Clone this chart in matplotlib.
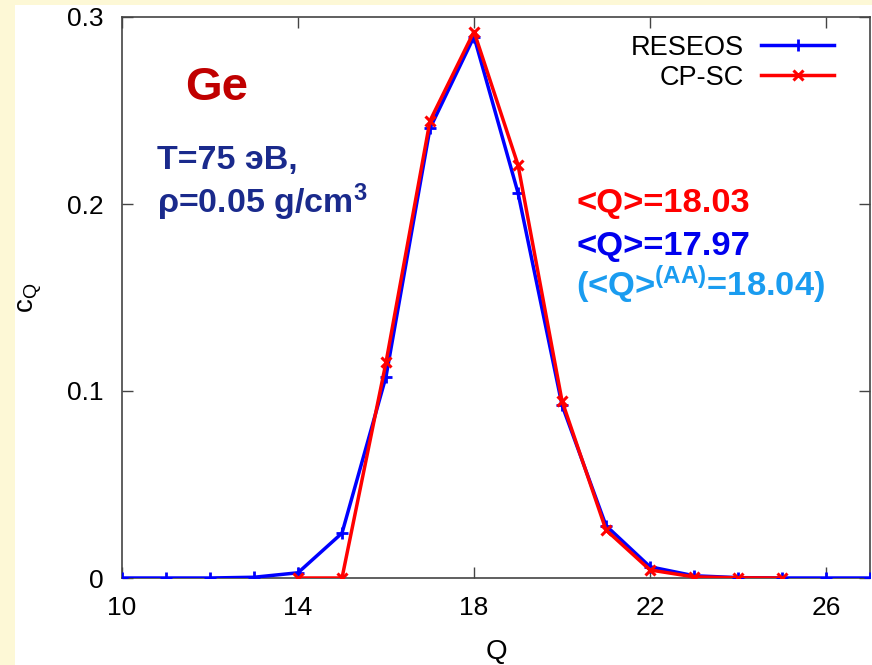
import matplotlib
matplotlib.use("Agg")
import matplotlib.pyplot as plt
from matplotlib.patches import Rectangle

plt.rcParams['font.family'] = ['Liberation Sans', 'DejaVu Sans']
plt.rcParams['mathtext.fontset'] = 'custom'
plt.rcParams['mathtext.rm'] = 'Liberation Sans'
plt.rcParams['mathtext.it'] = 'Liberation Sans'
plt.rcParams['mathtext.bf'] = 'Liberation Sans:bold'

# charge state distribution, Ge at T=75 eV
q_reseos = [10, 11, 12, 13, 14, 15, 16, 17, 18, 19, 20, 21, 22, 23, 24, 25, 26, 27]
c_reseos = [0, 0, 0, 0.0004, 0.0028, 0.024, 0.1077, 0.2405, 0.2895, 0.206,
            0.0925, 0.028, 0.006, 0.0012, 0.0002, 0, 0, 0]
q_cpsc = [14, 15, 16, 17, 18, 19, 20, 21, 22, 23, 24, 25]
c_cpsc = [0, 0, 0.1153, 0.2445, 0.2922, 0.2209, 0.0947, 0.0257, 0.0043, 0.0006, 0.0001, 0]

x_ticks = [10, 14, 18, 22, 26]
y_ticks = [0, 0.1, 0.2, 0.3]
y_tick_labels = ['0', '0.1', '0.2', '0.3']

fig = plt.figure(figsize=(8.72, 6.65), dpi=100)
fig.patch.set_facecolor('#fdf8d6')
# white slide panel behind the plot
fig.patches.append(Rectangle((15 / 872, 0), 1, 1 - 5 / 665, transform=fig.transFigure,
                             facecolor='white', edgecolor='none', zorder=-10))

ax = fig.add_axes([122 / 872, 1 - 578 / 665, 748 / 872, 561 / 665])
ax.set_facecolor('white')
ax.set_zorder(1)

ax.plot(q_reseos, c_reseos, color='#0000ff', lw=2.5, marker='+', ms=9, mew=2,
        label='RESEOS', zorder=3)
ax.plot(q_cpsc, c_cpsc, color='#ff0000', lw=2.5, marker='x', ms=7, mew=2.2,
        label='CP-SC', zorder=4)

ax.set_xlim(10, 27)
ax.set_ylim(0, 0.3)
ax.set_xticks(x_ticks)
ax.set_yticks(y_ticks)
ax.set_yticklabels(y_tick_labels)
ax.tick_params(direction='in', length=8, width=1, top=True, right=True,
               labelsize=19, color='#444444')
ax.tick_params(axis='x', pad=13)
ax.tick_params(axis='y', pad=13)
for sp in ax.spines.values():
    sp.set_color('#444444')
    sp.set_linewidth(1.2)

ax.set_xlabel('Q', fontsize=20, labelpad=14)
ax.set_ylabel(r'c$_\mathrm{Q}$', fontsize=20, labelpad=17)

leg = ax.legend(loc='upper right', bbox_to_anchor=(0.967, 0.988), frameon=False,
                fontsize=19.5, markerfirst=False, handlelength=2.7,
                handletextpad=0.65, labelspacing=0.15, borderaxespad=0)

ax.text(0.127, 0.873, 'Ge', transform=ax.transAxes, color='#c00000',
        fontsize=34, fontweight='bold', ha='center', va='center')
ax.text(0.047, 0.729, 'T=75 эВ,', transform=ax.transAxes, color='#1a2a8c',
        fontsize=24.5, fontweight='bold', ha='left', va='baseline')
ax.text(0.047, 0.651, r'ρ=0.05 g/cm$^{\mathbf{3}}$', transform=ax.transAxes,
        color='#1a2a8c', fontsize=24.5, fontweight='bold', ha='left', va='baseline')

ax.text(0.607, 0.652, '<Q>=18.03', transform=ax.transAxes, color='#ff0000',
        fontsize=24.8, fontweight='bold', ha='left', va='baseline')
ax.text(0.607, 0.576, '<Q>=17.97', transform=ax.transAxes, color='#0000ee',
        fontsize=24.8, fontweight='bold', ha='left', va='baseline')
ax.text(0.607, 0.503, r'(<Q>$^{\mathbf{(AA)}}$=18.04)', transform=ax.transAxes,
        color='#1a9cf0', fontsize=24.8, fontweight='bold', ha='left', va='baseline')

plt.savefig('out.png', dpi=100, facecolor=fig.get_facecolor())
